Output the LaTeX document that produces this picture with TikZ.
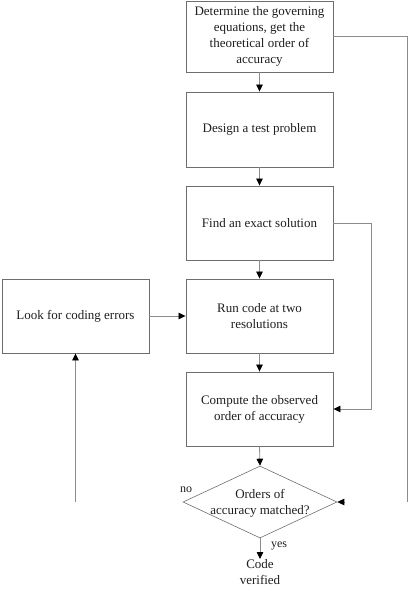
\documentclass[tikz,border=0pt]{standalone}
\usepackage{fontspec}
\setmainfont{Liberation Serif}
\usetikzlibrary{shapes.geometric,arrows.meta}
\definecolor{boxline}{HTML}{6E6E6E}
\definecolor{conline}{HTML}{8C8C8C}
\definecolor{txt}{HTML}{1E1E1E}
\tikzset{
  procbox/.style={draw=boxline, line width=0.9pt, minimum width=147pt, align=center,
    inner sep=0pt, text=txt, font=\fontsize{13}{16}\selectfont},
  decision/.style={diamond, draw=boxline, line width=0.6pt, minimum width=154pt,
    minimum height=72pt, inner sep=0pt, aspect=2.14},
  lbl/.style={text=txt, font=\fontsize{13}{16}\selectfont, align=center, inner sep=0pt},
  conn/.style={draw=conline, line width=0.8pt},
  arr/.style={conn, -{Triangle[length=7pt,width=6.5pt,color=black,fill=black]}}
}
\begin{document}
\begin{tikzpicture}[x=1pt,y=-1pt]
\useasboundingbox (0,0) rectangle (413,589);
\node[procbox, minimum height=71pt] (b1) at (259.5,36.5) {Determine the governing\\equations, get the\\theoretical order of\\accuracy};
\node[procbox, minimum height=75pt] (b2) at (259.5,129.5) {Design a test problem};
\node[procbox, minimum height=74pt] (b3) at (259.5,223) {Find an exact solution};
\node[procbox, minimum height=74pt] (b4) at (259.5,316) {Run code at two\\resolutions};
\node[procbox, minimum height=74pt] (b5) at (259.5,409) {Compute the observed\\order of accuracy};
\node[procbox, minimum height=74pt] (lk) at (75.5,316) {Look for coding errors};
\node[decision] (dec) at (260,502) {};
\node[lbl] (dect) at (260,503) {Orders of\\accuracy matched?};
\node[lbl, anchor=north] (done) at (260,559) {Code\\verified};
\node[lbl, font=\fontsize{12}{14}\selectfont] (no) at (186,490) {no};
\node[lbl, font=\fontsize{12}{14}\selectfont] (yes) at (279,546) {yes};
\coordinate (rtop) at (407,36.5);
\coordinate (rend) at (407,502);
\coordinate (lend) at (75.5,502);
\coordinate (stub) at (344.5,502);
\coordinate (c3) at (371,223);
\coordinate (c5) at (371,409);

\draw[arr] (b1.south) -- (b2.north);
\draw[arr] (b2.south) -- (b3.north);
\draw[arr] (b3.south) -- (b4.north);
\draw[arr] (b4.south) -- (b5.north);
\draw[arr] (b5.south) -- (dec.north);
\draw[arr] (dec.south) -- (done.north);
\draw[arr] (lk.east) -- (b4.west);
\draw[arr] (b3.east) -- (c3) -- (c5) -- (b5.east);
\draw[conn] (b1.east) -- (rtop) -- (rend);
\draw[arr] (lend) -- (lk.south);
\draw[arr] (stub) -- (dec.east);
\end{tikzpicture}
\end{document}
